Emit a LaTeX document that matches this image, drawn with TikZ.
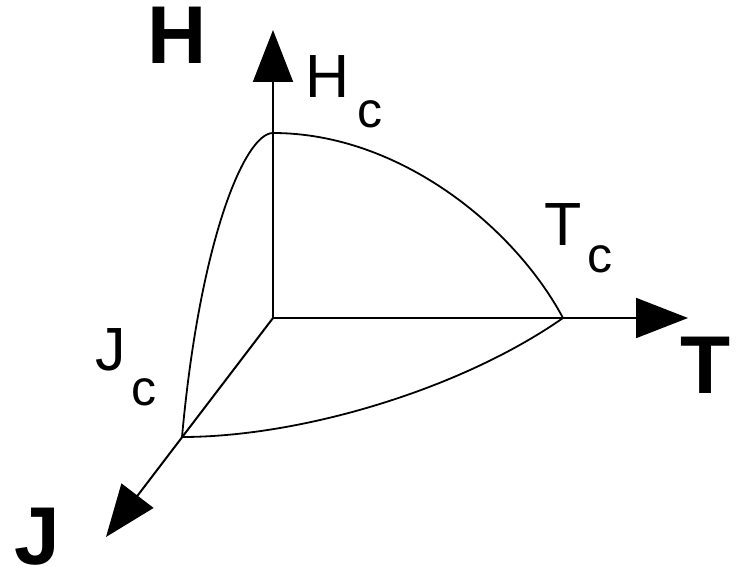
\documentclass[tikz,border=0pt]{standalone}
\usepackage{fontspec}
\setmainfont{Liberation Sans}
\usetikzlibrary{arrows.meta}

\begin{document}
\begin{tikzpicture}[x=1pt,y=-1pt,
    axis/.style={line width=2pt,-{Triangle[length=52pt,width=40pt]}},
    edge/.style={line width=1.8pt},
    axislbl/.style={inner sep=0pt,anchor=base,font=\fontsize{82}{82}\selectfont\bfseries},
    critlbl/.style={inner sep=0pt,anchor=base,font=\fontsize{61}{61}\selectfont},
    sublbl/.style={inner sep=0pt,anchor=base,font=\fontsize{50}{50}\selectfont}]
  \useasboundingbox (0,0) rectangle (736,567);
  % axes
  \coordinate (O) at (273,318);
  \coordinate (Htip) at (273,30);
  \coordinate (Ttip) at (688,318);
  \coordinate (Jtip) at (106,537);
  \draw [axis] (O) -- (Htip);
  \draw [axis] (O) -- (Ttip);
  \draw [axis] (O) -- (Jtip);
  % critical points and surface
  \coordinate (Hc) at (273,133);
  \coordinate (Tc) at (563,318);
  \coordinate (Jc) at (182,437);
  \draw [edge] (Hc) .. controls +(127,0) and +(-48,-90) .. (Tc);
  \draw [edge] (Hc) .. controls +(-28,0) and +(18,-198) .. (Jc);
  \draw [edge] (Jc) .. controls +(118,0) and +(-103,72) .. (Tc);
  % labels
  \node [axislbl] (hname) at (177.5,64) {H};
  \node [axislbl] (tname) at (705.5,393) {T};
  \node [axislbl] (jname) at (37,564) {J};
  \node [critlbl] (hcrit) at (327.5,98) {H};
  \node [sublbl] (hsub) at (370,127.5) {c};
  \node [critlbl] (tcrit) at (563,245) {T};
  \node [sublbl] (tsub) at (600,272.5) {c};
  \node [critlbl] (jcrit) at (111,370) {J};
  \node [sublbl] (jsub) at (143.5,405.5) {c};
\end{tikzpicture}
\end{document}
